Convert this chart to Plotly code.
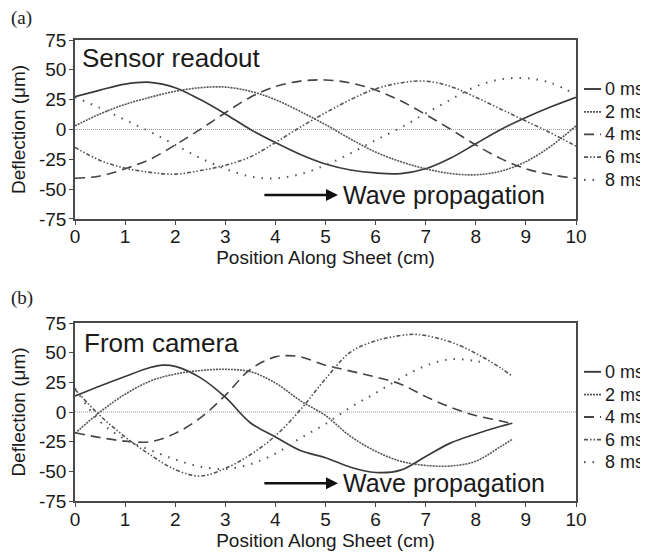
import plotly.graph_objects as go

# ---------------- data ----------------
series_names = ["0 ms", "2 ms", "4 ms", "6 ms", "8 ms"]

# Panel (a): sensor readout
xa = [0, 0.5, 1, 1.5, 2, 2.5, 3, 3.5, 4, 4.5, 5, 5.5, 6, 6.5, 7, 7.5, 8, 8.5, 9, 9.5, 10]
a_0ms = [27.5, 33, 38, 39.5, 35, 25, 13, 0, -11, -21, -29, -34, -36.5, -37, -33, -24, -12, 0, 10, 19, 27]
a_2ms = [3, 13, 21, 27, 32, 35, 35.5, 32, 25, 15, 4, -8, -19, -27, -33, -37, -38, -35, -27, -14, 3]
a_4ms = [-41, -39, -33, -25, -13, 0, 14, 27, 36, 40.5, 41.5, 39, 33, 24, 12.5, 0, -13, -24.5, -33, -38, -41]
a_6ms = [-15, -26, -32.5, -36, -37.5, -34.5, -30, -23, -11, 2, 14, 25, 34, 39, 40.5, 36, 27, 17, 7, -3, -14]
a_8ms = [27, 18, 8, -2, -13, -24, -33, -39.5, -41, -37.5, -30, -20, -9, 1.5, 13.5, 25, 36, 42, 43, 39, 29]

# Panel (b): from camera
xb_0ms = [0, 0.5, 1, 1.5, 1.75, 2, 2.5, 3, 3.5, 4, 4.5, 5, 5.5, 6, 6.5, 7, 7.5, 8, 8.5, 8.73]
b_0ms = [13.5, 22, 30, 37.5, 39.5, 38.5, 29, 12.5, -9, -21, -32.5, -38.5, -46.5, -51, -49, -37.5, -26, -18.5, -12, -9.5]
xb_2ms = [0, 0.5, 1, 1.5, 2, 2.5, 3, 3.5, 4, 4.5, 5, 5.5, 6, 6.5, 7, 7.5, 8, 8.5, 8.73]
b_2ms = [-18, 0, 15, 26, 32, 35, 36, 34, 24.5, 9.5, -3, -20.5, -33, -41.5, -45, -45.5, -41.5, -29, -23]
xb_4ms = [0, 0.5, 1, 1.5, 2, 2.5, 3, 3.5, 4, 4.25, 4.5, 5, 5.5, 6, 6.5, 7, 7.5, 8, 8.5, 8.73]
b_4ms = [-17.5, -21.5, -24.5, -25, -18, -5, 14, 36, 46.5, 47.5, 46.5, 39.5, 34.5, 29.5, 23.5, 13, 4, -3, -7.5, -10]
xb_6ms = [0, 0.5, 1, 1.5, 2, 2.5, 3, 3.5, 4, 4.5, 5, 5.5, 6, 6.5, 6.75, 7, 7.5, 8, 8.5, 8.7]
b_6ms = [19, -3, -21, -36, -48.5, -54, -47.5, -36, -20, 2, 28, 50.5, 60, 64.5, 65.5, 64.5, 59, 49.5, 37, 31]
xb_8ms = [0, 0.5, 1, 1.5, 2, 2.5, 3, 3.5, 4, 4.5, 5, 5.5, 6, 6.5, 7, 7.5, 8, 8.2]
b_8ms = [20, -8, -23, -32, -40, -46, -48, -44, -35, -22, -10, 4, 16, 28.5, 39, 44.5, 43, 41]

x_ticks = [0, 1, 2, 3, 4, 5, 6, 7, 8, 9, 10]
y_ticks = [-75, -50, -25, 0, 25, 50, 75]
y_ticktext = ["-75", "-50", "-25", "0", "25", "50", "75"]
x_range = [0, 10]
y_range = [-75, 75]

# ---------------- styles ----------------
styles = [
    dict(color="#3a3a3a", width=1.7, dash="solid"),
    dict(color="#555555", width=1.6, dash="2px,1px"),
    dict(color="#444444", width=1.6, dash="10px,6px"),
    dict(color="#555555", width=1.6, dash="4px,2px,1.5px,2px,1.5px,2px"),
    dict(color="#555555", width=2.0, dash="1.5px,7px"),
]

FONT = "Liberation Sans, Arial, Helvetica, sans-serif"
TXT = "#1a1a1a"

fig = go.Figure()

panel_a = [(xa, a_0ms), (xa, a_2ms), (xa, a_4ms), (xa, a_6ms), (xa, a_8ms)]
panel_b = [(xb_0ms, b_0ms), (xb_2ms, b_2ms), (xb_4ms, b_4ms), (xb_6ms, b_6ms), (xb_8ms, b_8ms)]

for suffix, panel in (("", panel_a), ("2", panel_b)):
    # zero reference line
    fig.add_trace(go.Scatter(x=x_range, y=[0, 0], mode="lines",
                             line=dict(color="#9a9a9a", width=1, dash="1px,1px"),
                             xaxis="x" + suffix, yaxis="y" + suffix,
                             showlegend=False, hoverinfo="skip"))
    for name, (xs, ys), st in zip(series_names, panel, styles):
        fig.add_trace(go.Scatter(x=xs, y=ys, mode="lines", name=name,
                                 line=dict(color=st["color"], width=st["width"],
                                           dash=st["dash"], shape="spline", smoothing=1.0),
                                 xaxis="x" + suffix, yaxis="y" + suffix,
                                 showlegend=False))

axis_common = dict(showline=True, linecolor="#4a4a4a", linewidth=1.6, mirror=True,
                   showgrid=False, zeroline=False, ticks="outside", ticklen=4,
                   tickcolor="#4a4a4a", tickwidth=1.3, automargin=False,
                   tickfont=dict(family=FONT, size=19, color=TXT))

xtitle = dict(text="Position Along Sheet (cm)", font=dict(family=FONT, size=19, color=TXT), standoff=0)
ytitle = dict(text="Deflection (μm)", font=dict(family=FONT, size=19, color=TXT), standoff=9)

# page body has an 8px default margin; figure sized so the plot lands where the reference has it
fig.update_layout(
    width=640, height=549,
    margin=dict(l=67, r=72, t=32, b=56, autoexpand=False),
    paper_bgcolor="white", plot_bgcolor="white",
    showlegend=False,
    xaxis=dict(domain=[0, 1], anchor="y", range=x_range, tickvals=x_ticks, title=xtitle,
               ticklabelstandoff=-4, **axis_common),
    yaxis=dict(domain=[0.612, 1], anchor="x", range=y_range, tickvals=y_ticks,
               ticktext=y_ticktext, title=ytitle, ticklabelstandoff=-1, **axis_common),
    xaxis2=dict(domain=[0, 1], anchor="y2", range=x_range, tickvals=x_ticks, title=xtitle,
                ticklabelstandoff=-4, **axis_common),
    yaxis2=dict(domain=[0, 0.386], anchor="x2", range=y_range, tickvals=y_ticks,
                ticktext=y_ticktext, title=ytitle, ticklabelstandoff=-1, **axis_common),
)

annotations = []
shapes = []

# panel labels
for lab, ly in (("(a)", 1.047), ("(b)", 0.44)):
    annotations.append(dict(text=lab, xref="paper", yref="paper", x=-0.131, y=ly,
                            xanchor="left", yanchor="middle", showarrow=False,
                            font=dict(family="Liberation Serif, Times New Roman, serif", size=19, color=TXT)))

# in-plot titles
annotations.append(dict(text="Sensor readout", xref="x", yref="y", x=0.1, y=60,
                        xanchor="left", yanchor="middle", showarrow=False,
                        font=dict(family=FONT, size=26, color=TXT)))
annotations.append(dict(text="From camera", xref="x2", yref="y2", x=0.14, y=58,
                        xanchor="left", yanchor="middle", showarrow=False,
                        font=dict(family=FONT, size=26, color=TXT)))

# wave propagation arrows + text
for xr, yr, yv in (("x", "y", -55), ("x2", "y2", -60)):
    annotations.append(dict(text="", xref=xr, yref=yr, x=5.25, y=yv, axref=xr, ayref=yr,
                            ax=3.75, ay=yv, showarrow=True, arrowhead=2, arrowsize=1.0,
                            arrowwidth=2.4, arrowcolor="#111111"))
    annotations.append(dict(text="Wave propagation", xref=xr, yref=yr, x=5.3, y=yv,
                            xanchor="left", yanchor="middle", showarrow=False,
                            font=dict(family=FONT, size=25, color=TXT)))

# manual legends (short keys like the reference)
legend_rows = [0.726, 0.598, 0.472, 0.345, 0.218]
for xr, yr in (("x domain", "y domain"), ("x2 domain", "y2 domain")):
    for name, st, ry in zip(series_names, styles, legend_rows):
        shapes.append(dict(type="line", xref=xr, yref=yr, x0=1.016, x1=1.05, y0=ry, y1=ry,
                           line=dict(color=st["color"], width=st["width"] + 0.2, dash=st["dash"])))
        annotations.append(dict(text=name, xref=xr, yref=yr, x=1.054, y=ry,
                                xanchor="left", yanchor="middle", showarrow=False,
                                font=dict(family=FONT, size=18, color=TXT)))

fig.update_layout(annotations=annotations, shapes=shapes)

fig.write_html("out.html")
